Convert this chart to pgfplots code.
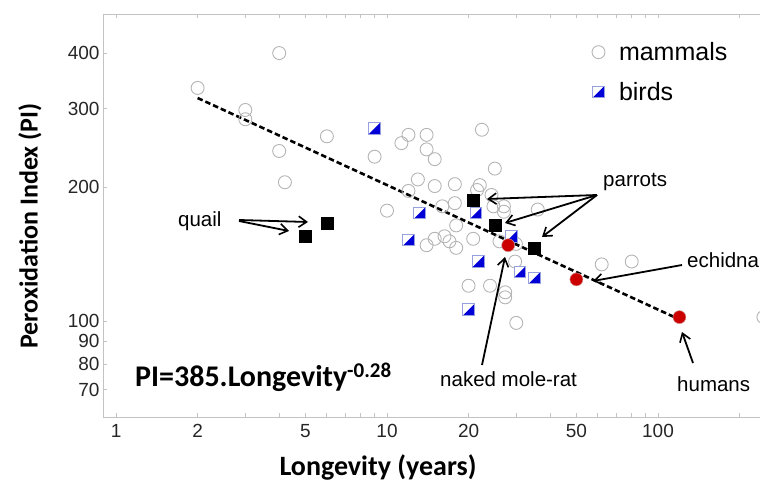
\documentclass[border=0pt]{standalone}
\usepackage{fontspec}
\setmainfont{Liberation Sans}
\newfontfamily\carlito{Carlito}
\usepackage{pgfplots}
\pgfplotsset{compat=1.18}
\usetikzlibrary{arrows.meta}
\definecolor{mamgray}{RGB}{180,180,180}
\definecolor{birdblue}{RGB}{0,0,215}
\definecolor{birdedge}{RGB}{150,160,225}
\definecolor{dotred}{RGB}{205,0,0}
\definecolor{axgray}{RGB}{195,195,195}
\pgfdeclareplotmark{halfsq}{%
  \pgfpathrectangle{\pgfpoint{-\pgfplotmarksize}{-\pgfplotmarksize}}{\pgfpoint{2\pgfplotmarksize}{2\pgfplotmarksize}}%
  \pgfsetfillcolor{white}\pgfusepath{fill}%
  \pgfpathmoveto{\pgfpoint{\pgfplotmarksize}{\pgfplotmarksize}}%
  \pgfpathlineto{\pgfpoint{\pgfplotmarksize}{-\pgfplotmarksize}}%
  \pgfpathlineto{\pgfpoint{-\pgfplotmarksize}{-\pgfplotmarksize}}%
  \pgfpathclose
  \pgfsetfillcolor{birdblue}\pgfusepath{fill}%
  \pgfpathrectangle{\pgfpoint{-\pgfplotmarksize}{-\pgfplotmarksize}}{\pgfpoint{2\pgfplotmarksize}{2\pgfplotmarksize}}%
  \pgfsetstrokecolor{birdedge}\pgfsetlinewidth{0.9pt}\pgfusepath{stroke}%
}
\pgfplotstableread{
L PI
4 400
2 334
3 298
3 284
6 260
4 241
4.2 205
9 234
12 262
11.3 251
14 262
14 243
13 208
12 196
10 177
15 231
15 201
17.8 203
17.8 184
16 181
22.4 269
25 220
22 202
21.5 197
24.3 192
24.7 181
27 181
27 176
36 178
14 148
15 153
16.3 155
17 151
18 146
18 164
20.8 153
26 151
29.9 149
29.7 136
20 120
24 120
27.3 116
27.3 113
30 99
62 134
80 136
245 102
}\mammals
\pgfplotstableread{
L PI
9 271
13.2 175
21.3 175
12 152
28.8 155
21.7 136
31 129
35 125
20 106
}\birds
\pgfplotstableread{
L PI
5 155
6 166
20.8 187
25 164
35 146
}\blacksq
\pgfplotstableread{
L PI
28 148
50 124
120 102
}\reddots
\begin{document}
\begin{tikzpicture}
\path[use as bounding box] (-103pt,-67pt) rectangle (657pt,417pt);
\begin{axis}[
  scale only axis, width=657pt, height=403pt,
  xmode=log, ymode=log,
  xmin=0.895, xmax=238, ymin=60.84, ymax=489.7,
  axis x line*=box, axis y line*=left,
  axis line style={draw=axgray, line width=0.9pt},
  tick style={draw=axgray, line width=0.9pt},
  tick align=inside, major tick length=4pt, minor tick length=4pt,
  xtick={1,2,5,10,20,50,100}, xticklabels={1,2,5,10,20,50,100},
  minor xtick={3,4,6,7,8,9,30,40,60,70,80,90,200},
  ytick={70,80,90,100,200,300,400}, yticklabels={70,80,90,100,200,300,400},
  minor ytick={},
  /pgf/number format/assume math mode=true,
  ticklabel style={font=\fontsize{19}{19}\selectfont, text=black!85},
  xticklabel style={yshift=-4pt},
  legend style={at={(rel axis cs:0.744,0.935)}, anchor=north west, draw=none, fill=none,
    font=\fontsize{25}{25}\selectfont, row sep=16pt, inner sep=0pt,
    nodes={inner sep=2pt},
    /tikz/every odd column/.append style={column sep=12pt}},
  legend cell align=left,
  clip=false,
]
\addplot[only marks, mark=o, mark size=6.5pt, draw=mamgray, mark options={line width=0.9pt}] table[x=L,y=PI] {\mammals};
\addlegendentry{mammals}
\addplot[black, line width=2.6pt, dash pattern=on 5.5pt off 3pt, forget plot] coordinates {(2,317) (120,100.8)};
\addplot[only marks, mark=halfsq, mark size=5.8pt] table[x=L,y=PI] {\birds};
\addlegendentry{birds}
\addplot[only marks, mark=square*, mark size=6pt, black, forget plot] table[x=L,y=PI] {\blacksq};
\addplot[only marks, mark=*, mark size=6.5pt, draw=red!40!gray!60, fill=dotred, mark options={line width=0.5pt}, forget plot] table[x=L,y=PI] {\reddots};
\end{axis}
\begin{scope}[x=1pt, y=-1pt, shift={(-103pt,417pt)}]
  \node[anchor=center, rotate=90, font=\carlito\bfseries\fontsize{26}{26}\selectfont] at (30,226) {Peroxidation Index (PI)};
  \node[anchor=center, font=\carlito\bfseries\fontsize{28}{28}\selectfont] at (378,467) {Longevity (years)};
  \node[anchor=base west, inner sep=0pt, font=\carlito\bfseries\fontsize{30}{30}\selectfont] at (135,387) {PI=385.Longevity\textsuperscript{-0.28}};
  \begin{scope}[font=\fontsize{20.5}{20.5}\selectfont]
    \node[anchor=base west, inner sep=0pt] at (178,227) {quail};
    \node[anchor=base west, inner sep=0pt] at (603,187) {parrots};
    \node[anchor=base west, inner sep=0pt] at (687,268) {echidna};
    \node[anchor=base west, inner sep=0pt] at (440,387) {naked mole-rat};
    \node[anchor=base west, inner sep=0pt] at (677,392) {humans};
  \end{scope}
  \begin{scope}[line width=1.8pt, -{Straight Barb[length=8pt, width=11pt, line width=1.6pt]}]
    \draw (239,220) -- (308,222);
    \draw (239,221) -- (289,231);
    \draw (597,195) -- (487,199);
    \draw (597,195) -- (505,223);
    \draw (597,195) -- (542,237);
    \draw (682,265) -- (593,281);
    \draw (482,365) -- (505,257);
    \draw (693,363) -- (682,332);
  \end{scope}
\end{scope}
\end{tikzpicture}
\end{document}
